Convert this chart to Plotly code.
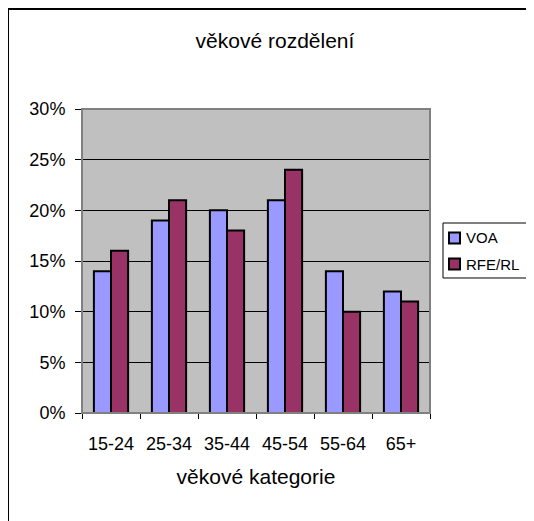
import plotly.graph_objects as go

categories = ["15-24", "25-34", "35-44", "45-54", "55-64", "65+"]
voa = [0.14, 0.19, 0.20, 0.21, 0.14, 0.12]
rfe = [0.16, 0.21, 0.18, 0.24, 0.10, 0.11]
series_names = ["VOA", "RFE/RL"]
series_colors = ["#9999FF", "#993366"]

font = "Liberation Sans, Arial, sans-serif"

fig = go.Figure()
for name, vals, col in zip(series_names, [voa, rfe], series_colors):
    fig.add_trace(go.Bar(x=categories, y=vals, name=name, showlegend=False,
                         marker=dict(color=col, line=dict(color="black", width=2))))

# chart frame (top and left edges visible) + plot area border
shapes = [
    dict(type="line", xref="paper", yref="paper", x0=-0.2126, x1=1.35, y0=1.3289, y1=1.3289,
         line=dict(color="black", width=2)),
    dict(type="line", xref="paper", yref="paper", x0=-0.2126, x1=-0.2126, y0=1.3289, y1=-0.4,
         line=dict(color="black", width=2)),
    dict(type="rect", xref="paper", yref="paper", x0=0, x1=1, y0=0, y1=1,
         line=dict(color="#808080", width=2)),
    # legend box
    dict(type="rect", xref="paper", yref="paper", x0=1.0374, x1=1.2874, y0=0.4441, y1=0.625,
         line=dict(color="black", width=1), fillcolor="white"),
]
annotations = []
leg_y = [0.5757, 0.4901]
for name, col, yc in zip(series_names, series_colors, leg_y):
    shapes.append(dict(type="rect", xref="paper", yref="paper", x0=1.0546, x1=1.0862,
                       y0=yc - 0.018, y1=yc + 0.018, fillcolor=col,
                       line=dict(color="black", width=2)))
    annotations.append(dict(text=name, xref="paper", yref="paper", x=1.0977, y=yc,
                            xanchor="left", yanchor="middle", showarrow=False,
                            font=dict(size=15)))

fig.update_layout(
    width=526, height=513,
    margin=dict(l=74, r=104, t=101, b=108, autoexpand=False),
    paper_bgcolor="white",
    plot_bgcolor="#C0C0C0",
    barmode="group",
    bargap=0.41,
    bargroupgap=0,
    font=dict(family=font, size=18, color="black"),
    title=dict(text="věkové rozdělení", xref="paper", x=0.5546, xanchor="center",
               y=0.9357, yanchor="middle", font=dict(size=21)),
    shapes=shapes,
    annotations=annotations,
)
fig.update_xaxes(
    automargin=False,
    showline=True, linecolor="black", linewidth=1,
    ticks="outside", ticklen=5, tickcolor="black", tickson="boundaries",
    ticklabelstandoff=14,
    title=dict(text="věkové kategorie", font=dict(size=21), standoff=16),
    tickfont=dict(size=18),
)
fig.update_yaxes(
    automargin=False,
    range=[0, 0.3], dtick=0.05, tickformat=".0%",
    showline=True, linecolor="black", linewidth=1,
    ticks="outside", ticklen=6, tickcolor="black",
    ticklabelstandoff=6,
    showgrid=True, gridcolor="black", gridwidth=1,
    zeroline=False,
    tickfont=dict(size=18),
)

fig.write_html("out.html")
